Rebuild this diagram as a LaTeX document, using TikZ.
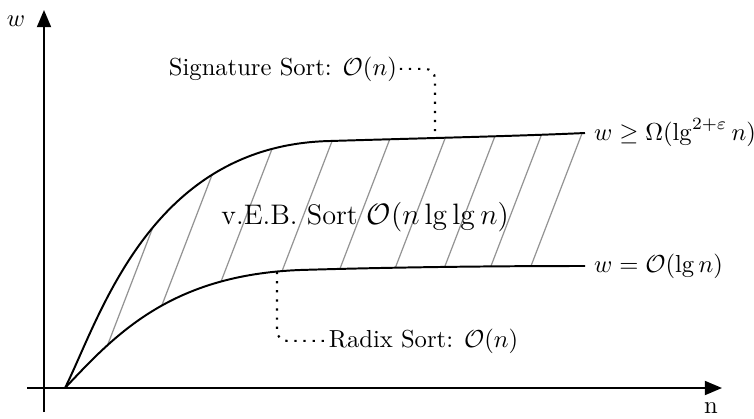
\documentclass[tikz,border=0pt]{standalone}
\usetikzlibrary{arrows.meta}
\begin{document}
\begin{tikzpicture}[x=0.4065pt,y=-0.4065pt,
  axis/.style={line width=0.8pt,-{Triangle[length=7pt,width=5.7pt]}},
  curve/.style={line width=0.8pt},
  hatch/.style={line width=0.5pt,black!42},
  dotconn/.style={line width=0.85pt,dash pattern=on 0.9pt off 2.8pt,rounded corners=4pt},
  lbl/.style={inner sep=3.33pt}]
\useasboundingbox (0,0) rectangle (754,418);
% hatching between the curves
\begin{scope}
  \clip (65,388) .. controls (100,318) and (150,145) .. (330,141)
        .. controls (430,138) and (520,136) .. (585,133)
        -- (585,266) .. controls (500,266) and (400,267) .. (300,270)
        .. controls (170,275) and (115,335) .. (65,388) -- cycle;
  \foreach \x in {138,177,227,284,341,396,445,491,531}
    \draw[hatch] (\x-60,266+156) -- (\x+60,266-156);
\end{scope}
% axes
\draw[axis] (27,388) -- (722,388);
\draw[axis] (44,412) -- (44,10);
\node (wax) at (16,21) {$w$};
\node (nax) at (711,408) {n};
% curves
\draw[curve] (65,388) .. controls (100,318) and (150,145) .. (330,141)
  .. controls (430,138) and (520,136) .. (585,133)
  node[right,lbl] (up) {$w \geq \Omega(\lg^{2+\varepsilon} n)$};
\draw[curve] (65,388) .. controls (115,335) and (170,275) .. (300,270)
  .. controls (400,267) and (500,266) .. (585,266)
  node[right,lbl] (lo) {$w = \mathcal{O}(\lg n)$};
% labels
\node[anchor=base west,inner sep=0pt] (veb) at (221,224)
  {\fontsize{11.5}{14}\selectfont v.E.B. Sort $\mathcal{O}(n\lg\lg n)$};
\node[anchor=base west,inner sep=1pt] (sig) at (166,75) {Signature Sort: $\mathcal{O}(n)$};
\node[anchor=base west,inner sep=1pt] (rad) at (326,347) {Radix Sort: $\mathcal{O}(n)$};
\coordinate (sigend) at (435,137);
\coordinate (radend) at (277,272);
\draw[dotconn] (sig.east) -| (sigend);
\draw[dotconn] (radend) |- (rad.west);
\end{tikzpicture}
\end{document}
